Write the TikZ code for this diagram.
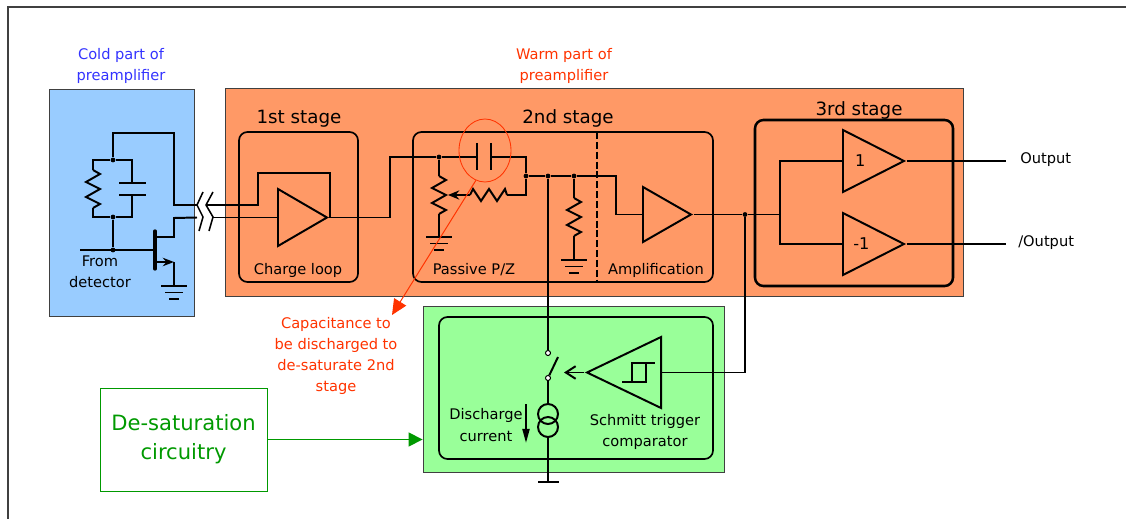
\documentclass[tikz,border=0pt]{standalone}
\usepackage{fontspec}
\setmainfont{DejaVu Sans}
\usetikzlibrary{arrows.meta}
\usetikzlibrary{positioning}
\usetikzlibrary{shapes.geometric}
\newcommand{\px}{0.025cm}
\definecolor{coldblue}{HTML}{99CCFF}
\definecolor{warmorange}{HTML}{FF9966}
\definecolor{desatgreen}{HTML}{99FF99}
\definecolor{labelred}{HTML}{FF3300}
\definecolor{labelblue}{HTML}{3333FF}
\definecolor{circgreen}{HTML}{009900}
\tikzstyle{every node}+=[inner sep=0pt]
\tikzstyle{wire} = [draw, line width=1.4pt, black]
\tikzstyle{panel} = [rectangle, draw=black!75, line width=0.6pt]
\tikzstyle{stage} = [rectangle, draw, rounded corners=6pt, line width=1.2pt]
\tikzstyle{amp} = [isosceles triangle, isosceles triangle stretches, draw, line width=1.4pt, font=\fontsize{11.5}{13}\selectfont]
\tikzstyle{dot} = [circle, fill=black, minimum size=3.4pt]
\tikzstyle{contact} = [circle, draw, fill=white, line width=0.7pt, minimum size=3.6pt]
\tikzstyle{small} = [font=\fontsize{10.4}{15}\selectfont, align=center]
\tikzstyle{title} = [font=\fontsize{13}{15}\selectfont]
\tikzset{
  vres/.pic={\draw[wire] (0,0) -- (7,4) -- (-7,12) -- (7,19) -- (-7,27) -- (7,34) -- (0,38);},
  hres/.pic={\draw[wire] (0,0) -- (3,-6) -- (11,6) -- (19,-6) -- (27,6) -- (35,-6) -- (37,0);},
  gnd/.pic={\draw[wire] (-13,0) -- (13,0) (-9,6.5) -- (9,6.5) (-5,13) -- (5,13);}
}
\begin{document}
\begin{tikzpicture}[x=\px, y=-\px, every text node part/.style={align=center}]
  \useasboundingbox (0,0) rectangle (1126,519);
  \draw[black!75, line width=1pt] (8,519) -- (8,7) -- (1126,7);
  % Place panels
  \node [panel, fill=coldblue, minimum width=145*\px, minimum height=227*\px] (cold) at (121.5,202.5) {};
  \node [panel, fill=warmorange, minimum width=738*\px, minimum height=208*\px] (warm) at (594,192) {};
  \node [panel, fill=desatgreen, minimum width=301*\px, minimum height=166*\px] (desat) at (573.5,389) {};
  \node [stage, minimum width=119*\px, minimum height=150*\px] (st1) at (298.5,207) {};
  \node [stage, minimum width=300*\px, minimum height=150*\px] (st2) at (563,207) {};
  \node [stage, line width=1.8pt, minimum width=198*\px, minimum height=166*\px] (st3) at (854,203) {};
  \node [stage, minimum width=274*\px, minimum height=142*\px] (st4) at (576,388) {};
  \node [rectangle, draw=circgreen, line width=0.6pt, minimum width=167*\px, minimum height=103*\px, font=\fontsize{15}{20.5}\selectfont, text=circgreen] (circ) at (183.5,439.5) {De-saturation\\circuitry};
  % Place labels
  \node [small, text=labelblue] (coldtxt) at (121,66) {Cold part of\\preamplifier};
  \node [small, text=labelred] (warmtxt) at (564,66) {Warm part of\\preamplifier};
  \node [title] (t1) at (299,119) {1st stage};
  \node [title] (t2) at (568,118) {2nd stage};
  \node [title] (t3) at (859,110) {3rd stage};
  \node [small] (from) at (100,272) {From\\detector};
  \node [small] (loop) at (298,270) {Charge loop};
  \node [small] (pz) at (474,270) {Passive P/Z};
  \node [small] (ampl) at (656,270) {Amplification};
  \node [small] (dis) at (486,425) {Discharge\\current};
  \node [small] (sch) at (645,432) {Schmitt trigger\\comparator};
  \node [small, text=labelred] (note) at (336,356) {Capacitance to\\be discharged to\\de-saturate 2nd\\stage};
  \node [small, anchor=west] (out1) at (1020,160) {Output};
  \node [small, anchor=west] (out2) at (1018,243) {/Output};
  % Place amplifiers
  \node [amp, anchor=lower side, minimum width=57*\px, minimum height=49*\px] (a1) at (277,217.5) {};
  \node [amp, anchor=lower side, minimum width=55*\px, minimum height=48*\px] (a2) at (642,214.5) {};
  \node [amp, anchor=lower side, minimum width=62*\px, minimum height=61*\px] (a3) at (842,161) {1};
  \node [amp, anchor=lower side, minimum width=62*\px, minimum height=61*\px] (a4) at (842,244) {-1};
  \node [amp, shape border rotate=180, anchor=lower side, minimum width=71*\px, minimum height=74*\px] (a5) at (662,372.5) {};
  % Place junctions
  \node [dot] (j1) at (113,160) {};
  \node [dot] (j2) at (113,217) {};
  \node [dot] (j3) at (113,250) {};
  \node [dot] (j4) at (439,157) {};
  \node [dot] (j5) at (526,176) {};
  \node [dot] (j6) at (548,176) {};
  \node [dot] (j7) at (574,176) {};
  \node [dot] (j8) at (745,214.5) {};
  \node [contact] (sw1) at (548,353) {};
  \node [contact] (sw2) at (548,378) {};
  \coordinate (ql) at (197,205);
  \coordinate (qr) at (206,205);
  \coordinate (dl) at (197,217.5);
  \coordinate (dr) at (213,217.5);
  % Draw cold part
  \draw[wire] (j1) -- (113,133) -- (174,133) -- (174,205) -- (ql);
  \draw[wire] (j1) -- (93,160) -- (93,170);
  \draw[wire] (93,208) -- (93,217) -- (j2);
  \pic at (93,170) {vres};
  \draw[wire] (j1) -- (132,160) -- (132,183);
  \draw[wire] (119,183) -- (146,183) (119,195) -- (146,195);
  \draw[wire] (132,195) -- (132,217) -- (j2);
  \draw[wire] (j2) -- (j3);
  \draw[wire] (80,250) -- (155,250);
  \draw[line width=2.3pt, line cap=round] (155,231) -- (155,269);
  \draw[wire] (155,237) -- (174,237) -- (174,218) -- (dl);
  \draw[wire, -{Stealth[length=8pt,width=6pt]}] (155,262) -- (174,262);
  \draw[wire] (174,262) -- (174,286);
  \pic at (174,286) {gnd};
  % Draw break marks
  \draw[line width=1.1pt] (203,192) -- (197,205) -- (203,217) -- (199,231);
  \draw[line width=1.1pt] (213,192) -- (206,205) -- (213,217) -- (209,231);
  % Draw first stage
  \draw[wire] (qr) -- (258,205) -- (258,173) -- (a1.apex |- 258,173) -- (a1.apex);
  \draw[wire] (dr) -- (a1.lower side);
  \draw[wire] (a1.apex) -- (390,217.5) -- (390,157) -- (j4);
  % Draw second stage
  \draw[wire] (j4) -- (477,157) (491,157) -- (526,157) -- (j5);
  \draw[wire] (477,143) -- (477,170) (491,143) -- (491,170);
  \draw[wire] (j4) -- (439,176);
  \pic at (439,176) {vres};
  \draw[wire] (439,214) -- (439,237);
  \pic at (439,237) {gnd};
  \draw[wire, {Stealth[length=8pt,width=6.5pt]}-] (448,195) -- (470,195);
  \pic at (470,195) {hres};
  \draw[wire] (507,195) -- (526,195) -- (j5);
  \draw[wire] (j5) -- (j6);
  \draw[wire] (j6) -- (j7);
  \draw[wire] (j7) -- (616,176) -- (616,214.5) -- (a2.lower side);
  \draw[wire] (j7) -- (574,198);
  \pic at (574,198) {vres};
  \draw[wire] (574,236) -- (574,260);
  \pic at (574,260) {gnd};
  \draw[line width=1.1pt, dash pattern=on 5pt off 2pt] (597,132) -- (597,282);
  % Draw third stage
  \draw[wire] (a2.apex) -- (j8);
  \draw[wire] (j8) -- (780,214.5);
  \draw[wire] (a3.lower side) -- (780,161) -- (780,244) -- (a4.lower side);
  \draw[wire] (a3.apex) -- (1006,161);
  \draw[wire] (a4.apex) -- (1006,244);
  % Draw desaturation
  \draw[wire] (j6) -- (sw1);
  \draw[wire] (j8) -- (745,372.5) -- (a5.lower side);
  \draw[wire] (sw2) -- (558,357);
  \draw[wire, -{Straight Barb[length=7pt,width=9pt]}] (a5.apex) -- (564,372.5);
  \draw[line width=0.9pt] (622,382) -- (646,382) -- (646,363) -- (655,363) (632,382) -- (632,363) -- (646,363);
  \node [circle, draw, line width=1.4pt, minimum size=20*\px] (cs1) at (548,414) {};
  \node [circle, draw, line width=1.4pt, minimum size=20*\px] (cs2) at (548,427) {};
  \draw[wire] (sw2) -- (cs1);
  \draw[wire] (cs2) -- (548,482);
  \draw[wire] (538,482) -- (559,482);
  \draw[wire, -{Triangle[length=10pt,width=5pt]}] (526,404) -- (526,443);
  % Draw notes
  \draw[circgreen, line width=1pt, -{Triangle[length=10pt,width=10pt]}] (circ.east) -- (desat.west |- circ.east);
  \node [ellipse, draw=labelred, line width=0.6pt, minimum width=52*\px, minimum height=63*\px] (ring) at (485,150.5) {};
  \coordinate (tip) at (392,315);
  \draw[labelred, line width=0.7pt, -{Triangle[length=11pt,width=10pt]}] (ring.-107) -- (tip);
\end{tikzpicture}
\end{document}
